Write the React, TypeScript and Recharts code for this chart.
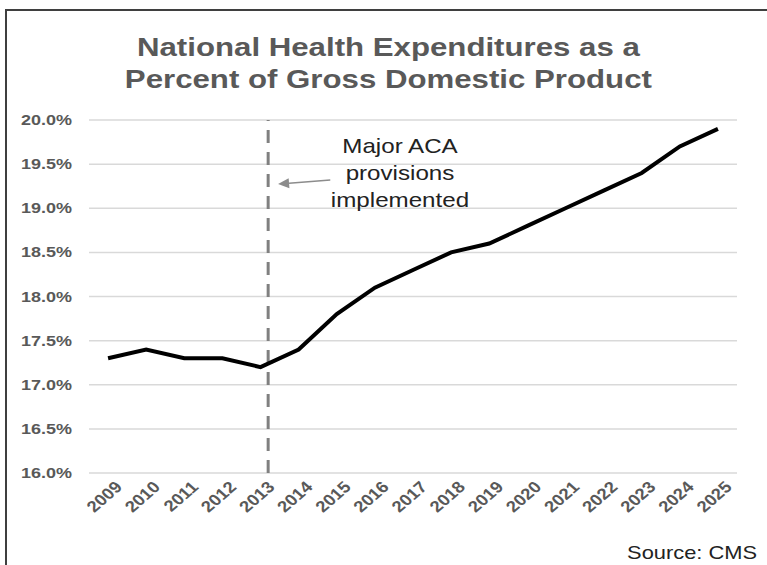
import React from 'react';
import { LineChart, Line, XAxis, YAxis, CartesianGrid, ReferenceLine } from 'recharts';

const years = [2009, 2010, 2011, 2012, 2013, 2014, 2015, 2016, 2017, 2018, 2019, 2020, 2021, 2022, 2023, 2024, 2025];
const nhePercent = [17.3, 17.4, 17.3, 17.3, 17.2, 17.4, 17.8, 18.1, 18.3, 18.5, 18.6, 18.8, 19.0, 19.2, 19.4, 19.7, 19.9];
const yTicks = [16.0, 16.5, 17.0, 17.5, 18.0, 18.5, 19.0, 19.5, 20.0];
const acaYear = 2013.2;
const arrowFrom = { x: 2014.83, y: 19.32 };
const arrowTo = { x: 2013.46, y: 19.275 };

const data = years.map((year, i) => ({ year, value: nhePercent[i] }));

const FONT = '"Liberation Sans", Arial, sans-serif';

const XTick = (props: any) => {
  const { x, y, payload } = props;
  return (
    <g transform={`translate(${x + 7},${y}) scale(1.15,1)`}>
      <text
        x={0}
        y={0}
        dy={10}
        textAnchor="end"
        transform="rotate(-45)"
        fill="#595959"
        fontSize={16}
        fontWeight="bold"
        fontFamily={FONT}
      >
        {payload.value}
      </text>
    </g>
  );
};

const YTick = (props: any) => {
  const { x, y, payload } = props;
  return (
    <g transform={`translate(${x},${y}) scale(1.2,1)`}>
      <text x={0} y={0} dy={5} textAnchor="end" fill="#595959" fontSize={15} fontWeight="bold" fontFamily={FONT}>
        {Number(payload.value).toFixed(1) + '%'}
      </text>
    </g>
  );
};

const ArrowShape = (props: any) => {
  const { x1, y1, x2, y2 } = props;
  if (x1 == null) return null;
  const ang = Math.atan2(y2 - y1, x2 - x1);
  const len = 11;
  const w = 5;
  const bx = x2 - len * Math.cos(ang);
  const by = y2 - len * Math.sin(ang);
  const px = -Math.sin(ang) * w;
  const py = Math.cos(ang) * w;
  return (
    <g>
      <line x1={x1} y1={y1} x2={bx} y2={by} stroke="#8c8c8c" strokeWidth={1.5} />
      <polygon points={`${x2},${y2} ${bx + px},${by + py} ${bx - px},${by - py}`} fill="#8c8c8c" />
    </g>
  );
};

export default function App() {
  return (
    <div style={{ position: 'absolute', left: 0, top: 0, width: 767, height: 565, background: '#fff', overflow: 'hidden', fontFamily: FONT }}>
      <div style={{ position: 'absolute', left: 5, top: 9, width: 800, height: 600, border: '2px solid #3f3f3f', boxSizing: 'border-box' }} />
      <div style={{ position: 'absolute', left: 0, top: 0 }}>
        <LineChart width={767} height={565} data={data} margin={{ top: 120, right: 30, left: 0, bottom: 0 }}>
          <CartesianGrid vertical={false} stroke="#d9d9d9" strokeWidth={1.5} />
          <XAxis
            dataKey="year"
            type="number"
            domain={[2008.5, 2025.5]}
            ticks={years}
            interval={0}
            axisLine={false}
            tickLine={false}
            height={92}
            tick={<XTick />}
          />
          <YAxis
            domain={[16, 20]}
            ticks={yTicks}
            width={89}
            axisLine={false}
            tickLine={false}
            tickMargin={11}
            tick={<YTick />}
          />
          <ReferenceLine x={acaYear} stroke="#808080" strokeWidth={3} strokeDasharray="13 9" />
          <ReferenceLine segment={[arrowFrom, arrowTo]} shape={<ArrowShape />} />
          <Line type="linear" dataKey="value" stroke="#000" strokeWidth={4} dot={false} isAnimationActive={false} />
        </LineChart>
      </div>
      <div style={{ position: 'absolute', left: 0, width: 778, top: 31, textAlign: 'center', fontSize: 26, fontWeight: 'bold', color: '#595959', lineHeight: '32px', transform: 'scaleX(1.2)', transformOrigin: '392px 0' }}>
        National Health Expenditures as a<br />Percent of Gross Domestic Product
      </div>
      <div style={{ position: 'absolute', left: 300, width: 200, top: 132, textAlign: 'center', fontSize: 21, color: '#222', lineHeight: '27px', transform: 'scaleX(1.15)', transformOrigin: '100px 0' }}>
        Major ACA<br />provisions<br />implemented
      </div>
      <div style={{ position: 'absolute', right: 10, top: 543, fontSize: 19, color: '#222', lineHeight: '20px', transform: 'scaleX(1.15)', transformOrigin: '100% 0' }}>
        Source: CMS
      </div>
    </div>
  );
}
